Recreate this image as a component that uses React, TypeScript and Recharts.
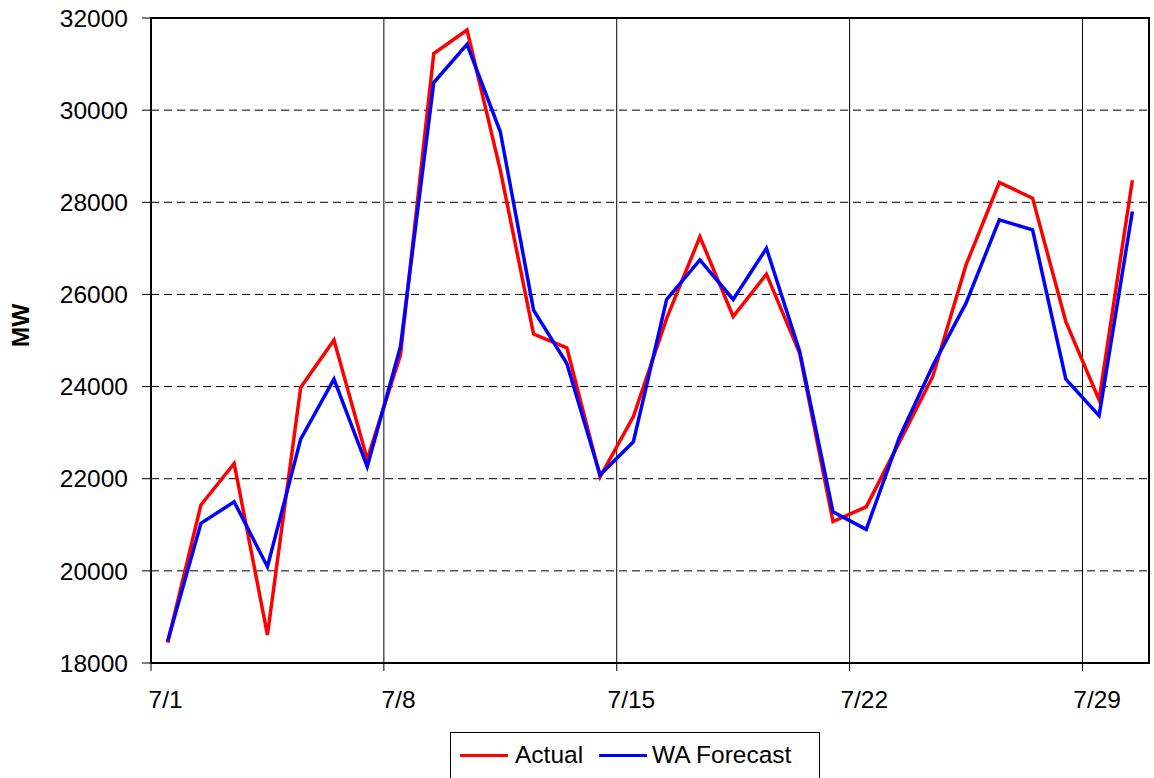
import {
  ComposedChart,
  Line,
  XAxis,
  YAxis,
  CartesianGrid,
  Legend,
  ReferenceArea,
  ReferenceLine,
  Label,
} from "recharts";

const dates: string[] = [
  "7/1", "7/2", "7/3", "7/4", "7/5", "7/6", "7/7", "7/8", "7/9", "7/10",
  "7/11", "7/12", "7/13", "7/14", "7/15", "7/16", "7/17", "7/18", "7/19", "7/20",
  "7/21", "7/22", "7/23", "7/24", "7/25", "7/26", "7/27", "7/28", "7/29", "7/30",
];

const actual: number[] = [
  18440, 21430, 22330, 18610, 23980, 25010, 22420, 24690, 31230, 31740,
  28700, 25140, 24840, 22040, 23350, 25480, 27250, 25520, 26440, 24720,
  21070, 21390, 22800, 24220, 26640, 28430, 28090, 25410, 23710, 28480,
];

const waForecast: number[] = [
  18470, 21030, 21500, 20090, 22860, 24160, 22260, 24870, 30600, 31430,
  29530, 25660, 24500, 22080, 22800, 25890, 26750, 25890, 27000, 24760,
  21280, 20900, 22900, 24450, 25810, 27620, 27400, 24160, 23370, 27800,
];

const yTicks: number[] = [18000, 20000, 22000, 24000, 26000, 28000, 30000, 32000];
const weekLabels: string[] = ["7/1", "7/8", "7/15", "7/22", "7/29"];

const data = dates.map((d, i) => ({
  date: d,
  actual: actual[i],
  forecast: waForecast[i],
}));

const font = '"Liberation Sans", Arial, sans-serif';

// plot area is 998px wide, each day is one band; tick marks sit on the band edges
const PLOT_WIDTH = 998;
const HALF_BAND = PLOT_WIDTH / dates.length / 2;

const DayTick = (props: any) => {
  const { x, y, payload } = props;
  return (
    <g>
      <line x1={x - HALF_BAND} x2={x - HALF_BAND} y1={y} y2={y + 8} stroke="#000" />
      <text
        x={x - 2}
        y={y + 45}
        textAnchor="middle"
        fontFamily={font}
        fontSize={24.5}
        fill="#000"
      >
        {payload.value}
      </text>
    </g>
  );
};

const LegendBox = () => (
  <div
    style={{
      width: 370,
      height: 60,
      border: "1px solid #000",
      boxSizing: "border-box",
      background: "#fff",
      fontFamily: font,
      fontSize: 24.5,
      color: "#000",
    }}
  >
    <div style={{ display: "flex", alignItems: "center", height: 44, paddingLeft: 9 }}>
      <span style={{ display: "inline-block", width: 48, height: 3, background: "#ff0000" }} />
      <span style={{ marginLeft: 7 }}>Actual</span>
      <span style={{ display: "inline-block", width: 48, height: 3, background: "#0000ff", marginLeft: 16 }} />
      <span style={{ marginLeft: 5 }}>WA Forecast</span>
    </div>
  </div>
);

const MwLabel = (props: any) => {
  const vb = props.viewBox;
  const cx = 20;
  const cy = vb.y + vb.height / 2 - 15;
  return (
    <text
      x={cx}
      y={cy}
      transform={`rotate(-90 ${cx} ${cy})`}
      textAnchor="middle"
      dominantBaseline="central"
      fontFamily={font}
      fontSize={24.5}
      fontWeight="bold"
      fill="#000"
    >
      MW
    </text>
  );
};

export default function App() {
  return (
    <div style={{ position: "absolute", left: 0, top: 0, background: "#fff" }}>
      <ComposedChart
        width={1154}
        height={778}
        data={data}
        margin={{ top: 18, right: 5, bottom: 0, left: 0 }}
      >
        <CartesianGrid
          horizontal={true}
          vertical={false}
          stroke="#000"
          strokeDasharray="8 5"
          yAxisId="mw"
          xAxisId="day"
        />
        <XAxis
          xAxisId="day"
          dataKey="date"
          type="category"
          scale="band"
          ticks={weekLabels}
          interval={0}
          height={69}
          tickSize={0}
          tickMargin={0}
          axisLine={{ stroke: "#000", strokeWidth: 2 }}
          tickLine={false}
          tick={<DayTick />}
        />
        <YAxis
          yAxisId="mw"
          domain={[18000, 32000]}
          ticks={yTicks}
          width={151}
          tickSize={9}
          tickMargin={14}
          axisLine={{ stroke: "#000", strokeWidth: 2 }}
          tickLine={{ stroke: "#000" }}
          tick={{ fill: "#000", fontSize: 24.5, fontFamily: font }}
        >
          <Label content={MwLabel} />
        </YAxis>
        {weekLabels.slice(1).map((w) => (
          <ReferenceLine
            key={w}
            xAxisId="day"
            yAxisId="mw"
            x={w}
            position="start"
            stroke="#000"
            strokeWidth={1}
          />
        ))}
        <ReferenceArea
          xAxisId="day"
          yAxisId="mw"
          y1={18000}
          y2={32000}
          fill="none"
          stroke="#000"
          strokeWidth={2}
        />
        <Line
          xAxisId="day"
          yAxisId="mw"
          type="linear"
          dataKey="actual"
          name="Actual"
          stroke="#ff0000"
          strokeWidth={3.5}
          dot={false}
          isAnimationActive={false}
        />
        <Line
          xAxisId="day"
          yAxisId="mw"
          type="linear"
          dataKey="forecast"
          name="WA Forecast"
          stroke="#0000ff"
          strokeWidth={3.5}
          dot={false}
          isAnimationActive={false}
        />
        <Legend
          verticalAlign="bottom"
          height={46}
          wrapperStyle={{ left: 450 }}
          content={<LegendBox />}
        />
      </ComposedChart>
    </div>
  );
}
